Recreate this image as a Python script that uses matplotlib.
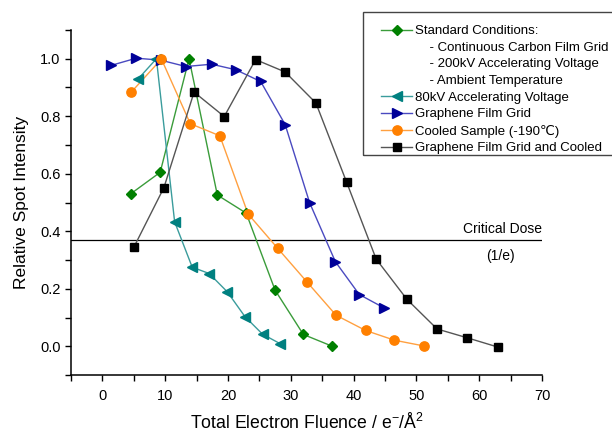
import matplotlib
matplotlib.use("Agg")
import matplotlib.pyplot as plt
from matplotlib.lines import Line2D
from matplotlib.patches import Rectangle
from matplotlib.ticker import MultipleLocator
import numpy as np

plt.rcParams['font.family'] = ['Liberation Sans', 'DejaVu Sans']
plt.rcParams['mathtext.fontset'] = 'custom'
plt.rcParams['mathtext.rm'] = 'Liberation Sans'
plt.rcParams['mathtext.it'] = 'Liberation Sans:italic'

# Data
std_x = [4.5, 9.2, 13.8, 18.3, 22.9, 27.5, 32.0, 36.6]
std_y = [0.53, 0.605, 1.0, 0.526, 0.463, 0.195, 0.041, 0.0]

kv80_x = [5.7, 8.6, 11.5, 14.3, 17.0, 19.9, 22.7, 25.5, 28.3]
kv80_y = [0.93, 1.0, 0.433, 0.275, 0.253, 0.189, 0.103, 0.042, 0.009]

gra_x = [1.4, 5.4, 9.3, 13.3, 17.4, 21.2, 25.2, 29.1, 33.0, 37.1, 40.9, 44.8]
gra_y = [0.977, 1.002, 0.995, 0.973, 0.981, 0.962, 0.921, 0.771, 0.499, 0.294, 0.18, 0.134]

cool_x = [4.6, 9.4, 14.0, 18.7, 23.2, 27.9, 32.6, 37.2, 41.9, 46.5, 51.2]
cool_y = [0.884, 0.999, 0.774, 0.732, 0.46, 0.341, 0.223, 0.108, 0.055, 0.021, 0.001]

gc_x = [5.0, 9.8, 14.6, 19.4, 24.4, 29.1, 34.0, 38.9, 43.6, 48.5, 53.3, 58.0, 63.0]
gc_y = [0.344, 0.552, 0.884, 0.799, 0.997, 0.954, 0.846, 0.570, 0.303, 0.163, 0.06, 0.03, -0.003]

critical = 1/np.e

fig = plt.figure(figsize=(6.12, 4.33), dpi=100)
ax = fig.add_axes([71/612, 1-375/433, (542-71)/612, (375-30)/433])

series = [
    (std_x, std_y, 'D', '#008000', '#3a9c3a', 5.3),
    (kv80_x, kv80_y, '<', '#008080', '#3a9c9c', 7.0),
    (gra_x, gra_y, '>', '#000099', '#4a4ac0', 7.0),
    (cool_x, cool_y, 'o', '#ff8000', '#ffa040', 6.7),
    (gc_x, gc_y, 's', '#000000', '#555555', 6.0),
]
handles = []
for i, (x, y, m, mc, lc, ms) in enumerate(series):
    ax.plot(x, y, color=lc, lw=1.0, zorder=2 + i)
    ax.plot(x, y, linestyle='none', marker=m, markersize=ms, color=mc,
            markeredgecolor=mc, zorder=10 + i)
    handles.append(Line2D([], [], color=lc, lw=1.0, marker=m, markersize=ms,
                          markerfacecolor=mc, markeredgecolor=mc))

ax.axhline(critical, color='black', lw=0.9, zorder=1)
ax.text(70.0, 0.409, 'Critical Dose', ha='right', va='center', fontsize=10)
ax.text(63.4, 0.315, '(1/e)', ha='center', va='center', fontsize=10)

ax.set_xlim(-5, 70)
ax.set_ylim(-0.1, 1.1)
ax.xaxis.set_major_locator(MultipleLocator(10))
ax.xaxis.set_minor_locator(MultipleLocator(5))
ax.yaxis.set_minor_locator(MultipleLocator(0.1))
ax.set_yticks(np.arange(0, 1.01, 0.2))
ax.set_yticklabels(['0.0', '0.2', '0.4', '0.6', '0.8', '1.0'])
ax.tick_params(which='both', direction='out', length=4, width=1, labelsize=10.5)
ax.tick_params(axis='x', pad=6)
for s in ['top', 'right']:
    ax.spines[s].set_visible(False)
for s in ['left', 'bottom']:
    ax.spines[s].set_linewidth(1.1)

ax.set_xlabel(r'Total Electron Fluence / e$^{-}$/Å$^{2}$', fontsize=12.7, labelpad=7)
ax.set_ylabel('Relative Spot Intensity', fontsize=12.5, labelpad=8)

# legend box
fig.patches.append(Rectangle((363/612, 1-155/433), (620-363)/612, (155-12)/433,
                             transform=fig.transFigure, fill=False,
                             edgecolor='#444444', lw=1.0, zorder=20))

blank = Line2D([], [], linestyle='none')
leg_handles = [handles[0], blank, blank, blank, handles[1], handles[2], handles[3], handles[4]]
leg_labels = ['Standard Conditions:',
              '    - Continuous Carbon Film Grid',
              '    - 200kV Accelerating Voltage',
              '    - Ambient Temperature',
              '80kV Accelerating Voltage',
              'Graphene Film Grid',
              'Cooled Sample (-190\u2103)',
              'Graphene Film Grid and Cooled']
leg = fig.legend(leg_handles, leg_labels, loc='upper left',
                 bbox_to_anchor=(381/612, 1-25/433), fontsize=9.5,
                 frameon=False, handlelength=2.35, handletextpad=0.25,
                 labelspacing=0.33, borderpad=0, borderaxespad=0)

fig.savefig('out.png', dpi=100)
